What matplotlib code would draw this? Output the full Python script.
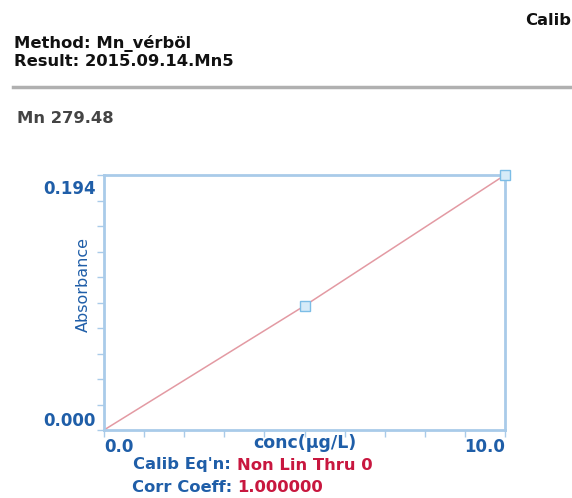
import matplotlib.pyplot as plt
from matplotlib.lines import Line2D
from matplotlib.transforms import ScaledTranslation

# calibration standards
conc = [0.0, 5.0, 10.0]          # ug/L
absorb = [0.0, 0.0945, 0.194]    # absorbance
std_conc = [5.0, 10.0]           # standards drawn as markers
std_abs = [0.0945, 0.194]
x_ticks = [0, 1, 2, 3, 4, 5, 6, 7, 8, 9, 10]
y_ticks = [0.0, 0.0194, 0.0388, 0.0582, 0.0776, 0.097, 0.1164, 0.1358, 0.1552, 0.1746, 0.194]

BLUE = '#1f5ea8'
RED = '#c8173f'
SPINE = '#a9cbe9'
W, H = 572, 498
FS = 11.8

plt.rcParams['font.family'] = 'DejaVu Sans'
fig = plt.figure(figsize=(W / 100, H / 100), dpi=100)

def px(x, y):
    # pixel coords from top-left -> figure fraction
    return x / W, 1 - y / H

# header
fig.text(*px(525, 20), 'Calib', fontsize=FS, fontweight='bold', va='center', color='#111111')
fig.text(*px(14, 43), 'Method: Mn_vérböl', fontsize=FS, fontweight='bold', va='center', color='#111111')
fig.text(*px(14, 61), 'Result: 2015.09.14.Mn5', fontsize=FS, fontweight='bold', va='center', color='#111111')
fig.add_artist(Line2D([13 / W, 1], [1 - 87 / H] * 2, color='#b0b0b0', lw=2.5))
fig.text(*px(17, 118), 'Mn 279.48', fontsize=FS, fontweight='bold', va='center', color='#444444')

ax = fig.add_axes([104 / W, 1 - 430 / H, 401 / W, 255 / H])
ax.plot(conc, absorb, color='#e39aa3', lw=1.1, zorder=2)
ax.plot(std_conc, std_abs, ls='none', marker='s', ms=6.5, mfc='#d6ebf8', mec='#7cbde6', mew=1, zorder=3, clip_on=False)
ax.set_xlim(0, 10)
ax.set_ylim(0, 0.194)

for s in ax.spines.values():
    s.set_color(SPINE)
    s.set_linewidth(2)

ax.set_xticks(x_ticks)
ax.set_xticklabels(['0.0'] + [''] * 9 + ['10.0'])
ax.set_yticks(y_ticks)
ax.set_yticklabels(['0.000'] + [''] * 9 + ['0.194'])
ax.tick_params(axis='both', colors=SPINE, length=5, width=1, labelcolor=BLUE, labelsize=12)
ax.tick_params(axis='x', pad=1)
ax.tick_params(axis='y', pad=1)
for lab in ax.get_xticklabels() + ax.get_yticklabels():
    lab.set_fontweight('bold')
xl = ax.get_xticklabels()
xl[0].set_horizontalalignment('left')
xl[-1].set_horizontalalignment('right')
yl = ax.get_yticklabels()
yl[0].set_verticalalignment('bottom')
yl[-1].set_verticalalignment('top')
# nudge the top label a little below the frame, like the original
yl[-1].set_transform(yl[-1].get_transform() + ScaledTranslation(0, -5 / 100, fig.dpi_scale_trans))

ax.set_xlabel('conc(µg/L)', fontsize=12.5, fontweight='bold', color=BLUE)
ax.xaxis.set_label_coords(0.5, -0.05)
ax.xaxis.label.set_verticalalignment('center')
ax.set_ylabel('Absorbance', fontsize=11.5, color=BLUE)
ax.yaxis.set_label_coords(-0.032, 0.57)

# footer
fig.text(*px(133, 465), "Calib Eq'n:", fontsize=FS, fontweight='bold', va='center', color=BLUE)
fig.text(*px(237, 465), 'Non Lin Thru 0', fontsize=FS, fontweight='bold', va='center', color=RED)
fig.text(*px(132, 487), 'Corr Coeff:', fontsize=FS, fontweight='bold', va='center', color=BLUE)
fig.text(*px(237, 487), '1.000000', fontsize=FS, fontweight='bold', va='center', color=RED)

fig.savefig('out.png', dpi=100)
